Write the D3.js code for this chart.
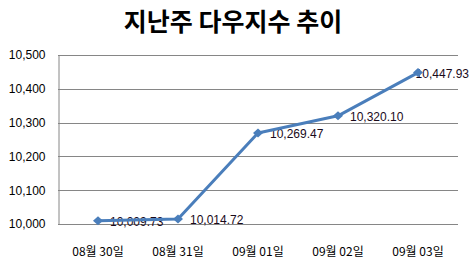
<!DOCTYPE html>
<html>
<head>
<meta charset="utf-8">
<script src="https://cdn.jsdelivr.net/npm/d3@7"></script>
<style>
  body { margin: 0; background: #fff; }
  text { font-family: "Noto Sans CJK KR", "DejaVu Sans", sans-serif; }
</style>
</head>
<body>
<svg></svg>
<script>
var dates = ['08월 30일', '08월 31일', '09월 01일', '09월 02일', '09월 03일'];
var values = [10009.73, 10014.72, 10269.47, 10320.10, 10447.93];
var yTicks = [10000, 10100, 10200, 10300, 10400, 10500];

var unit = {width: 474, height: 261};
var m = {left: 58, right: 16, top: 55, bottom: 37};
var numFont = '"Liberation Sans", Arial, sans-serif';

var svg = d3.select('svg')
	.attr('width', unit.width)
	.attr('height', unit.height);

var x = d3.scaleBand().domain(dates).range([m.left, unit.width - m.right]);
var y = d3.scaleLinear().domain([10000, 10500]).range([unit.height - m.bottom, m.top]);
var fmt = d3.format(',');
var fmt2 = d3.format(',.2f');

// title
svg.append('text')
	.attr('x', 233).attr('y', 31)
	.attr('text-anchor', 'middle')
	.style('font-size', '25px')
	.style('font-weight', 'bold')
	.text('지난주 다우지수 추이');

// gridlines
svg.append('g')
	.selectAll('line')
	.data(yTicks)
	.enter()
	.append('line')
	.attr('x1', m.left).attr('x2', unit.width - m.right)
	.attr('y1', (d) => Math.round(y(d)) + 0.5)
	.attr('y2', (d) => Math.round(y(d)) + 0.5)
	.attr('stroke', '#868686');

// y axis
var yAxis = svg.append('g')
	.attr('transform', 'translate(' + (m.left + 0.5) + ',0)')
	.call(d3.axisLeft(y).tickValues(yTicks).tickFormat(fmt).tickSize(0).tickPadding(13));
yAxis.select('.domain').attr('stroke', '#868686');
yAxis.selectAll('text').style('font-size', '12px').style('font-family', numFont).attr('fill', '#000');

// x axis
var xAxis = svg.append('g')
	.attr('transform', 'translate(0,' + (Math.round(y(10000)) + 0.5) + ')')
	.call(d3.axisBottom(x).tickSize(0).tickPadding(23));
xAxis.select('.domain').remove();
xAxis.selectAll('text').style('font-size', '12px').attr('fill', '#000');

// line
var cx = (d, i) => x(dates[i]) + x.bandwidth() / 2;
var line = d3.line().x(cx).y((d) => y(d));

// data labels
var labels = svg.append('g')
	.selectAll('text')
	.data(values)
	.enter()
	.append('text')
	.attr('y', (d) => y(d) + 1)
	.attr('dy', '0.35em')
	.style('font-size', '12px')
	.style('font-family', numFont)
	.attr('fill', '#1a0a1a')
	.text((d) => fmt2(d));
labels.attr('x', function(d, i){
	var w = this.getComputedTextLength();
	return Math.min(cx(d, i) + 12, unit.width - 5 - w);
});

svg.append('path')
	.datum(values)
	.attr('d', line)
	.attr('fill', 'none')
	.attr('stroke', '#4A7EBB')
	.attr('stroke-width', 3)
	.attr('stroke-linejoin', 'round');

svg.append('g')
	.selectAll('path')
	.data(values)
	.enter()
	.append('path')
	.attr('d', 'M0,-4.5L5,0L0,4.5L-5,0Z')
	.attr('transform', (d, i) => 'translate(' + cx(d, i) + ',' + y(d) + ')')
	.attr('fill', '#4A7EBB');
</script>
</body>
</html>
